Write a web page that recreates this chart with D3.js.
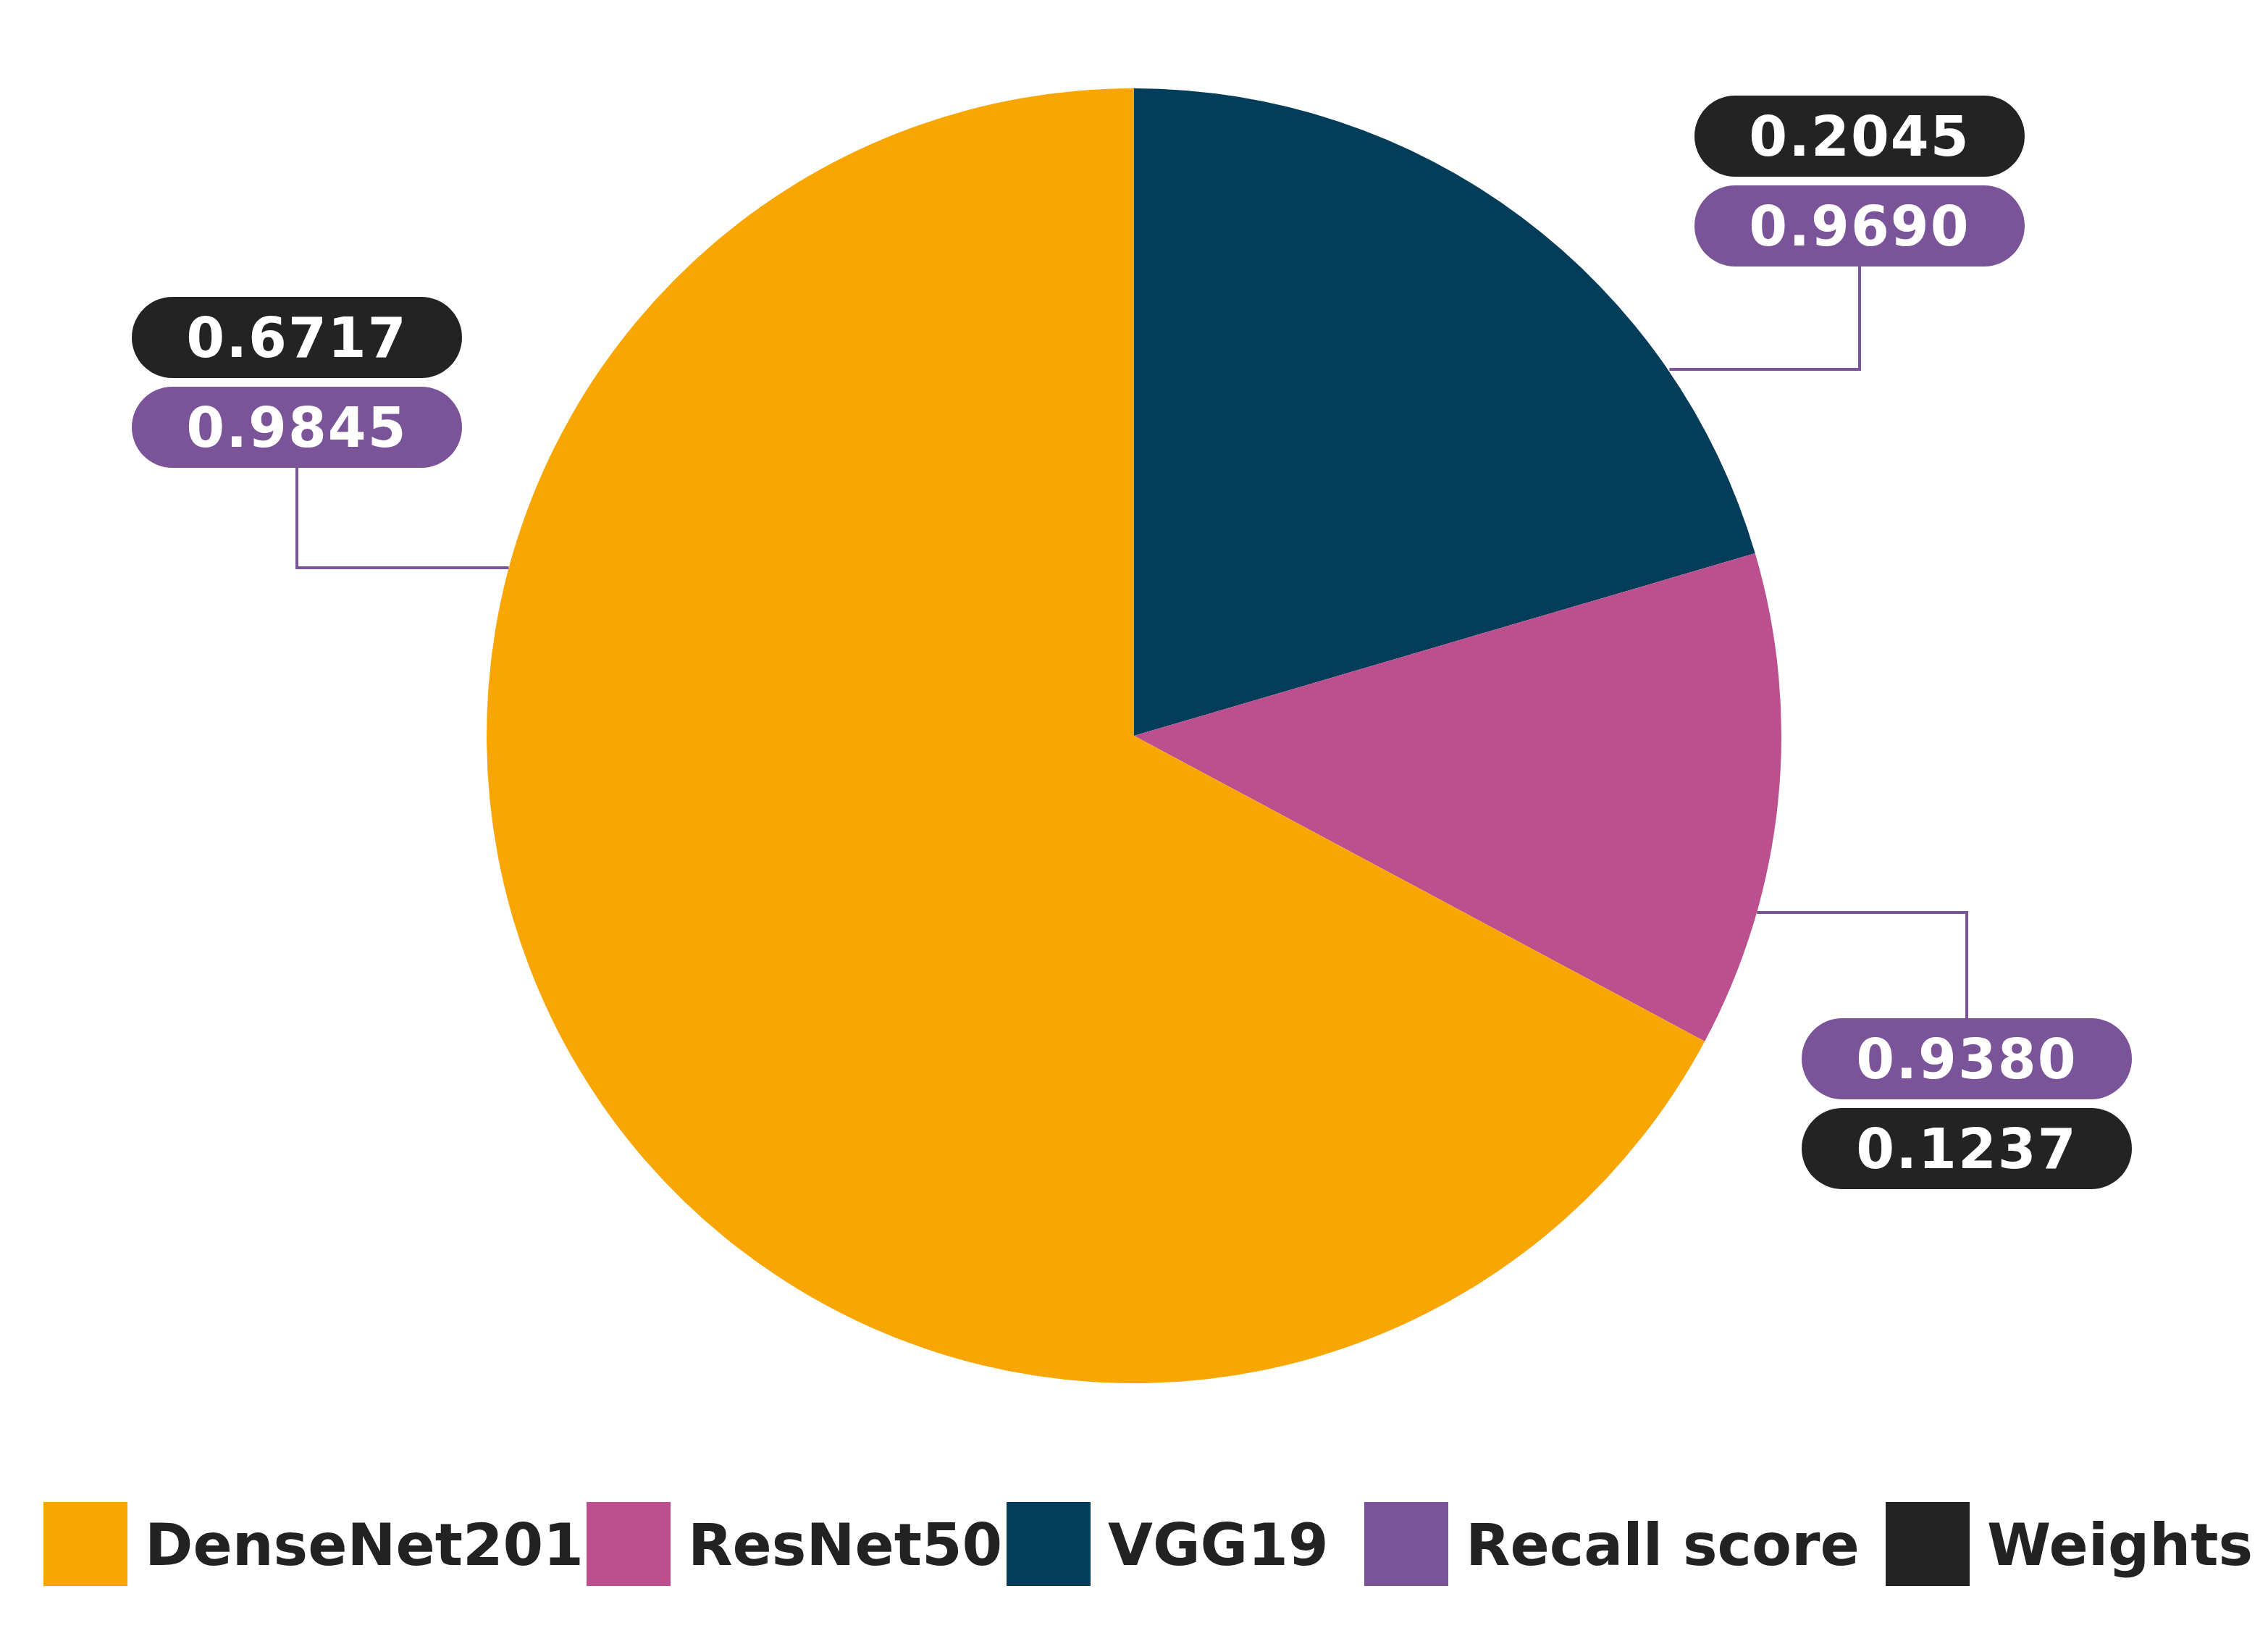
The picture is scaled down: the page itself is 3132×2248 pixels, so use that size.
<!DOCTYPE html>
<html>
<head>
<meta charset="utf-8">
<script src="https://cdn.jsdelivr.net/npm/d3@7"></script>
<style>
  body { margin: 0; background: #fff; }
  text { font-family: "DejaVu Sans", sans-serif; font-weight: bold; }
</style>
</head>
<body>
<div id="container"></div>
<script>
/* DATA */
const models = ['VGG19', 'ResNet50', 'DenseNet201'];
const weights = [0.2045, 0.1237, 0.6717];
const recall = [0.9690, 0.9380, 0.9845];
const legendLabels = ['DenseNet201', 'ResNet50', 'VGG19', 'Recall score', 'Weights'];

/* CONSTANTS */
const W = 1566, H = 1124;
const cx = 783, cy = 508, r = 447;
const colors = { DenseNet201: '#F9A603', ResNet50: '#BC4F8E', VGG19: '#033D5A', 'Recall score': '#7B5399', Weights: '#232323' };

const svg = d3.select('#container').append('svg')
  .attr('width', 3132).attr('height', 2248)
  .attr('viewBox', `0 0 ${W} ${H}`);

const data = models.map((m, i) => ({ model: m, weight: weights[i], recall: recall[i] }));
const pie = d3.pie().value(d => d.weight).sort(null);
const arc = d3.arc().innerRadius(0).outerRadius(r);

const g = svg.append('g').attr('transform', `translate(${cx},${cy})`);
g.selectAll('path').data(pie(data)).join('path')
  .attr('d', arc)
  .attr('fill', d => colors[d.data.model]);

/* LABELS: anchor angle on rim, box position, order */
const labelLayout = {
  VGG19: { angle: 55.8, bx: 1284, top: 94, elbowY: 255, recallFirst: false },
  ResNet50: { angle: 105.8, bx: 1358, top: 731, elbowY: 630, recallFirst: true },
  DenseNet201: { angle: 285, bx: 205, top: 233, elbowY: 392, recallFirst: false }
};
const bw = 228, bh = 56;
data.forEach(d => {
  const L = labelLayout[d.model];
  const a = L.angle * Math.PI / 180;
  const px = cx + r * Math.sin(a), py = cy - r * Math.cos(a);
  const rows = L.recallFirst
    ? [{ v: d.recall, c: colors['Recall score'] }, { v: d.weight, c: colors.Weights }]
    : [{ v: d.weight, c: colors.Weights }, { v: d.recall, c: colors['Recall score'] }];
  const boxEdge = L.recallFirst ? L.top - bh / 2 : L.top + 62 + bh / 2;
  svg.append('polyline')
    .attr('points', `${px},${L.elbowY} ${L.bx},${L.elbowY} ${L.bx},${boxEdge}`)
    .attr('fill', 'none').attr('stroke', colors['Recall score']).attr('stroke-width', 2);
  rows.forEach((row, i) => {
    const y = L.top + i * 62;
    svg.append('rect')
      .attr('x', L.bx - bw / 2).attr('y', y - bh / 2)
      .attr('width', bw).attr('height', bh)
      .attr('rx', 28).attr('fill', row.c);
    svg.append('text')
      .attr('x', L.bx).attr('y', y).attr('dy', '0.36em')
      .attr('text-anchor', 'middle').attr('fill', '#fff')
      .attr('font-size', 38).style('letter-spacing', '1px')
      .text(row.v.toFixed(4));
  });
});

/* LEGEND */
const legendX = [30, 405, 695, 942, 1302];
const leg = svg.append('g');
legendLabels.forEach((l, i) => {
  leg.append('rect').attr('x', legendX[i]).attr('y', 1037)
    .attr('width', 58).attr('height', 58).attr('fill', colors[l]);
  leg.append('text').attr('x', legendX[i] + 70).attr('y', 1066).attr('dy', '0.36em')
    .attr('font-size', 40).attr('fill', '#222').text(l);
});
</script>
</body>
</html>
